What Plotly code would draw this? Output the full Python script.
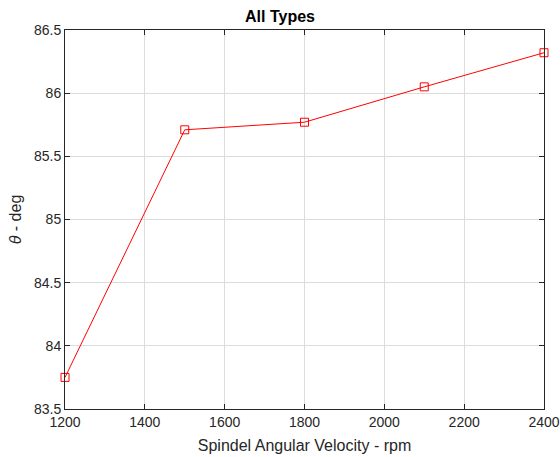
import plotly.graph_objects as go

rpm = [1200, 1500, 1800, 2100, 2400]
theta = [83.75, 85.71, 85.77, 86.05, 86.32]
x_ticks = [1200, 1400, 1600, 1800, 2000, 2200, 2400]
y_ticks = [83.5, 84, 84.5, 85, 85.5, 86, 86.5]
y_tick_text = ["83.5", "84", "84.5", "85", "85.5", "86", "86.5"]

FONT = "Liberation Sans, Arial, sans-serif"

fig = go.Figure()
fig.add_trace(go.Scatter(
    x=rpm, y=theta, mode="lines+markers",
    line=dict(color="#ff0000", width=1),
    marker=dict(symbol="square-open", size=8, color="#ff0000", line=dict(width=1)),
    showlegend=False, cliponaxis=False,
))

axis_common = dict(
    showline=True, linecolor="#262626", linewidth=1, mirror="ticks",
    ticks="inside", ticklen=5, tickcolor="#262626",
    showgrid=True, gridcolor="#dcdcdc", gridwidth=1,
    zeroline=False, automargin=False,
    tickfont=dict(family=FONT, size=14, color="#262626"),
)

fig.update_layout(
    width=560, height=457,
    margin=dict(l=65, r=16, t=30, b=48),
    paper_bgcolor="white", plot_bgcolor="white",
    title=dict(text="<b>All Types</b>", x=0.5, xanchor="center", y=1 - 16/457, yanchor="middle",
               font=dict(family=FONT, size=16, color="black")),
    xaxis=dict(range=[1200, 2400], tickvals=x_ticks,
               title=dict(text="Spindel Angular Velocity - rpm", standoff=11,
                          font=dict(family=FONT, size=16, color="#262626")),
               **axis_common),
    yaxis=dict(range=[83.5, 86.5], tickvals=y_ticks, ticktext=y_tick_text,
               title=dict(text="<i>θ</i> - deg", standoff=8,
                          font=dict(family=FONT, size=16, color="#262626")),
               **axis_common),
)

fig.write_html("out.html", config={"displayModeBar": False},
               post_script="document.body.style.margin='0';document.body.style.overflow='hidden';")
